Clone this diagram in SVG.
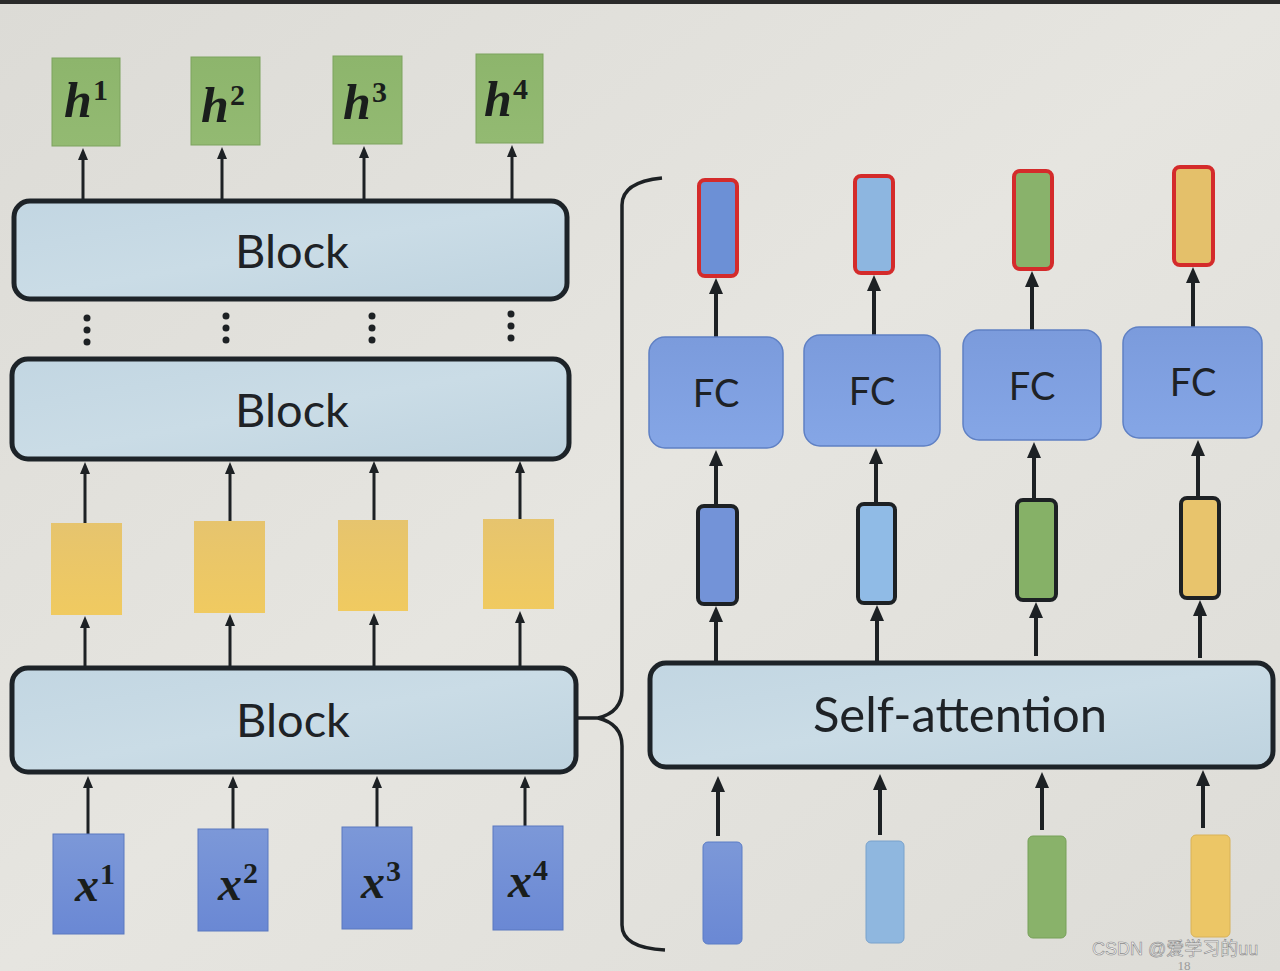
<svg xmlns="http://www.w3.org/2000/svg" width="1280" height="971" viewBox="0 0 1280 971">
<defs>
<style>
.blk{fill:url(#gBlk);stroke:#1d2328;stroke-width:5}
.lbl{font-family:Lato,"Open Sans",sans-serif;fill:#1e2226;text-anchor:middle}
.math{font-family:"Liberation Serif",serif;font-weight:bold;font-style:italic;fill:#1a1e1c}
.sup{font-family:"Liberation Serif",serif;font-weight:bold;fill:#1a1e1c}
.ar{stroke:#1d2124;stroke-width:3;fill:none;marker-end:url(#ah)}
.ar2{stroke:#1d2124;stroke-width:4;fill:none;marker-end:url(#ah2)}
.fc{fill:url(#gFC);stroke:#5f80c4;stroke-width:1.5}
.red{stroke:#d42b2b;stroke-width:4}
.blkb{stroke:#1d2124;stroke-width:4}
</style>
<linearGradient id="bg" x1="0" y1="0" x2="1" y2="1">
<stop offset="0" stop-color="#dcdbd6"/><stop offset="0.5" stop-color="#e6e5e0"/><stop offset="1" stop-color="#dddcd7"/>
</linearGradient>
<linearGradient id="gBlk" x1="0" y1="0" x2="1" y2="1">
<stop offset="0" stop-color="#c2d6e2"/><stop offset="0.5" stop-color="#cadce6"/><stop offset="1" stop-color="#bed3df"/>
</linearGradient>
<linearGradient id="gFC" x1="0" y1="0" x2="0" y2="1">
<stop offset="0" stop-color="#7b9bdc"/><stop offset="1" stop-color="#85a6e6"/>
</linearGradient>
<linearGradient id="gY" x1="0" y1="0" x2="0" y2="1">
<stop offset="0" stop-color="#e6c46e"/><stop offset="1" stop-color="#f0ca60"/>
</linearGradient>
<linearGradient id="gBlue" x1="0" y1="0" x2="0" y2="1">
<stop offset="0" stop-color="#7c98d8"/><stop offset="1" stop-color="#6a88d4"/>
</linearGradient>
<linearGradient id="gG" x1="0" y1="0" x2="0" y2="1">
<stop offset="0" stop-color="#8db56c"/><stop offset="1" stop-color="#93ba72"/>
</linearGradient>
<marker id="ah" markerUnits="userSpaceOnUse" markerWidth="12" markerHeight="12" viewBox="0 0 12 12" refX="6" refY="6" orient="auto">
<path d="M0,1 L12,6 L0,11 Z" fill="#1d2124"/>
</marker>
<marker id="ah2" markerUnits="userSpaceOnUse" markerWidth="16" markerHeight="16" viewBox="0 0 16 16" refX="8" refY="8" orient="auto">
<path d="M0,1 L16,8 L0,15 Z" fill="#1d2124"/>
</marker>
</defs>
<rect x="0" y="0" width="1280" height="971" fill="url(#bg)"/>
<rect x="0" y="0" width="1280" height="4" fill="#2a2a2a"/>

<g id="connectors">
<line class="ar" x1="83" y1="200" x2="83" y2="154"/>
<line class="ar" x1="222" y1="200" x2="222" y2="153"/>
<line class="ar" x1="364" y1="200" x2="364" y2="152"/>
<line class="ar" x1="512" y1="200" x2="512" y2="151"/>
<line class="ar" x1="85" y1="523" x2="85" y2="468"/>
<line class="ar" x1="230" y1="521" x2="230" y2="468"/>
<line class="ar" x1="374" y1="520" x2="374" y2="467"/>
<line class="ar" x1="520" y1="519" x2="520" y2="467"/>
<line class="ar" x1="85" y1="667" x2="85" y2="622"/>
<line class="ar" x1="230" y1="667" x2="230" y2="620"/>
<line class="ar" x1="374" y1="667" x2="374" y2="619"/>
<line class="ar" x1="520" y1="667" x2="520" y2="617"/>
<line class="ar" x1="88" y1="834" x2="88" y2="782"/>
<line class="ar" x1="233" y1="829" x2="233" y2="782"/>
<line class="ar" x1="377" y1="827" x2="377" y2="782"/>
<line class="ar" x1="525" y1="826" x2="525" y2="782"/>
<g fill="#1d2124">
<circle cx="87" cy="318" r="3.5"/><circle cx="87" cy="330" r="3.5"/><circle cx="87" cy="342" r="3.5"/>
<circle cx="226" cy="316" r="3.5"/><circle cx="226" cy="328" r="3.5"/><circle cx="226" cy="340" r="3.5"/>
<circle cx="372" cy="316" r="3.5"/><circle cx="372" cy="328" r="3.5"/><circle cx="372" cy="340" r="3.5"/>
<circle cx="511" cy="314" r="3.5"/><circle cx="511" cy="326" r="3.5"/><circle cx="511" cy="338" r="3.5"/>
</g>
<path d="M560,718 L598,718 Q622,712 622,690 L622,205 Q622,182 662,178" fill="none" stroke="#1d2124" stroke-width="3.5"/>
<path d="M598,718 Q622,724 622,746 L622,925 Q622,948 665,950" fill="none" stroke="#1d2124" stroke-width="3.5"/>
<line class="ar2" x1="716" y1="338" x2="716" y2="286"/>
<line class="ar2" x1="874" y1="336" x2="874" y2="283"/>
<line class="ar2" x1="1032" y1="331" x2="1032" y2="279"/>
<line class="ar2" x1="1193" y1="328" x2="1193" y2="275"/>
<line class="ar2" x1="716" y1="505" x2="716" y2="458"/>
<line class="ar2" x1="876" y1="503" x2="876" y2="456"/>
<line class="ar2" x1="1034" y1="499" x2="1034" y2="450"/>
<line class="ar2" x1="1198" y1="497" x2="1198" y2="448"/>
<line class="ar2" x1="716" y1="662" x2="716" y2="614"/>
<line class="ar2" x1="877" y1="662" x2="877" y2="613"/>
<line class="ar2" x1="1036" y1="656" x2="1036" y2="610"/>
<line class="ar2" x1="1200" y1="658" x2="1200" y2="608"/>
<line class="ar2" x1="718" y1="836" x2="718" y2="784"/>
<line class="ar2" x1="880" y1="835" x2="880" y2="782"/>
<line class="ar2" x1="1042" y1="830" x2="1042" y2="780"/>
<line class="ar2" x1="1203" y1="828" x2="1203" y2="778"/>
</g>

<g id="h-outputs">
<g id="h1"><rect x="52" y="58" width="68" height="88" fill="url(#gG)" stroke="#7da35e" stroke-width="1"/><text class="math" x="64" y="117" font-size="50">h</text><text class="sup" x="93" y="100" font-size="30">1</text></g>
<g id="h2"><rect x="191" y="57" width="69" height="88" fill="url(#gG)" stroke="#7da35e" stroke-width="1"/><text class="math" x="201" y="122" font-size="50">h</text><text class="sup" x="230" y="105" font-size="30">2</text></g>
<g id="h3"><rect x="333" y="56" width="69" height="88" fill="url(#gG)" stroke="#7da35e" stroke-width="1"/><text class="math" x="343" y="119" font-size="50">h</text><text class="sup" x="372" y="102" font-size="30">3</text></g>
<g id="h4"><rect x="476" y="54" width="67" height="89" fill="url(#gG)" stroke="#7da35e" stroke-width="1"/><text class="math" x="484" y="116" font-size="50">h</text><text class="sup" x="513" y="99" font-size="30">4</text></g>
</g>

<g id="block-top"><rect class="blk" x="14" y="201" width="553" height="98" rx="16"/><text class="lbl" x="292" y="268" font-size="47">Block</text></g>
<g id="block-mid"><rect class="blk" x="12" y="359" width="557" height="100" rx="16"/><text class="lbl" x="292" y="427" font-size="47">Block</text></g>

<g id="yellow">
<rect id="y1" x="51" y="523" width="71" height="92" fill="url(#gY)"/>
<rect id="y2" x="194" y="521" width="71" height="92" fill="url(#gY)"/>
<rect id="y3" x="338" y="520" width="70" height="91" fill="url(#gY)"/>
<rect id="y4" x="483" y="519" width="71" height="90" fill="url(#gY)"/>
</g>

<g id="block-bottom"><rect class="blk" x="12" y="668" width="564" height="104" rx="16"/><text class="lbl" x="293" y="737" font-size="47">Block</text></g>

<g id="x-inputs">
<g id="x1"><rect x="53" y="834" width="71" height="100" fill="url(#gBlue)" stroke="#5a78c0" stroke-width="1"/><text class="math" x="75" y="901" font-size="48">x</text><text class="sup" x="100" y="884" font-size="30">1</text></g>
<g id="x2"><rect x="198" y="829" width="70" height="102" fill="url(#gBlue)" stroke="#5a78c0" stroke-width="1"/><text class="math" x="218" y="900" font-size="48">x</text><text class="sup" x="243" y="883" font-size="30">2</text></g>
<g id="x3"><rect x="342" y="827" width="70" height="102" fill="url(#gBlue)" stroke="#5a78c0" stroke-width="1"/><text class="math" x="361" y="898" font-size="48">x</text><text class="sup" x="386" y="881" font-size="30">3</text></g>
<g id="x4"><rect x="493" y="826" width="70" height="104" fill="url(#gBlue)" stroke="#5a78c0" stroke-width="1"/><text class="math" x="508" y="897" font-size="48">x</text><text class="sup" x="533" y="880" font-size="30">4</text></g>
</g>

<g id="red-outputs">
<rect class="red" x="699" y="180" width="38" height="96" rx="6" fill="#6c90d6"/>
<rect class="red" x="855" y="176" width="38" height="97" rx="6" fill="#8db6e0"/>
<rect class="red" x="1014" y="171" width="38" height="98" rx="6" fill="#89b26b"/>
<rect class="red" x="1174" y="167" width="39" height="98" rx="6" fill="#e4c06a"/>
</g>

<g id="fc">
<g id="fc1"><rect class="fc" x="649" y="337" width="134" height="111" rx="16"/><text class="lbl" x="716" y="407" font-size="38">FC</text></g>
<g id="fc2"><rect class="fc" x="804" y="335" width="136" height="111" rx="16"/><text class="lbl" x="872" y="405" font-size="38">FC</text></g>
<g id="fc3"><rect class="fc" x="963" y="330" width="138" height="110" rx="16"/><text class="lbl" x="1032" y="400" font-size="38">FC</text></g>
<g id="fc4"><rect class="fc" x="1123" y="327" width="139" height="111" rx="16"/><text class="lbl" x="1193" y="396" font-size="38">FC</text></g>
</g>

<g id="mid-vectors">
<rect class="blkb" x="698" y="506" width="39" height="98" rx="6" fill="#7393d8"/>
<rect class="blkb" x="858" y="504" width="37" height="99" rx="6" fill="#90bbe6"/>
<rect class="blkb" x="1017" y="500" width="39" height="100" rx="6" fill="#86b167"/>
<rect class="blkb" x="1181" y="498" width="38" height="100" rx="6" fill="#e8c46c"/>
</g>

<g id="self-attention"><rect class="blk" x="650" y="663" width="623" height="104" rx="16"/><text class="lbl" x="960" y="732" font-size="49">Self-attention</text></g>

<g id="inputs-right">
<rect x="703" y="842" width="39" height="102" rx="5" fill="url(#gBlue)" stroke="#5a7cc6" stroke-width="1"/>
<rect x="866" y="841" width="38" height="102" rx="5" fill="#8fb7df" stroke="#79a2cc" stroke-width="1"/>
<rect x="1028" y="836" width="38" height="102" rx="5" fill="#89b26a" stroke="#76a058" stroke-width="1"/>
<rect x="1191" y="835" width="39" height="102" rx="5" fill="#ecc666" stroke="#d8b258" stroke-width="1"/>
</g>

<text x="1184" y="970" font-family="'Liberation Serif',serif" font-size="13" fill="#9a9a9a" text-anchor="middle">18</text>
<text x="1092" y="955" font-family="'Liberation Sans','Noto Sans CJK SC',sans-serif" font-size="18" fill="#f4f4f4" stroke="#8a8a8a" stroke-width="0.6">CSDN @爱学习的uu</text>
</svg>
